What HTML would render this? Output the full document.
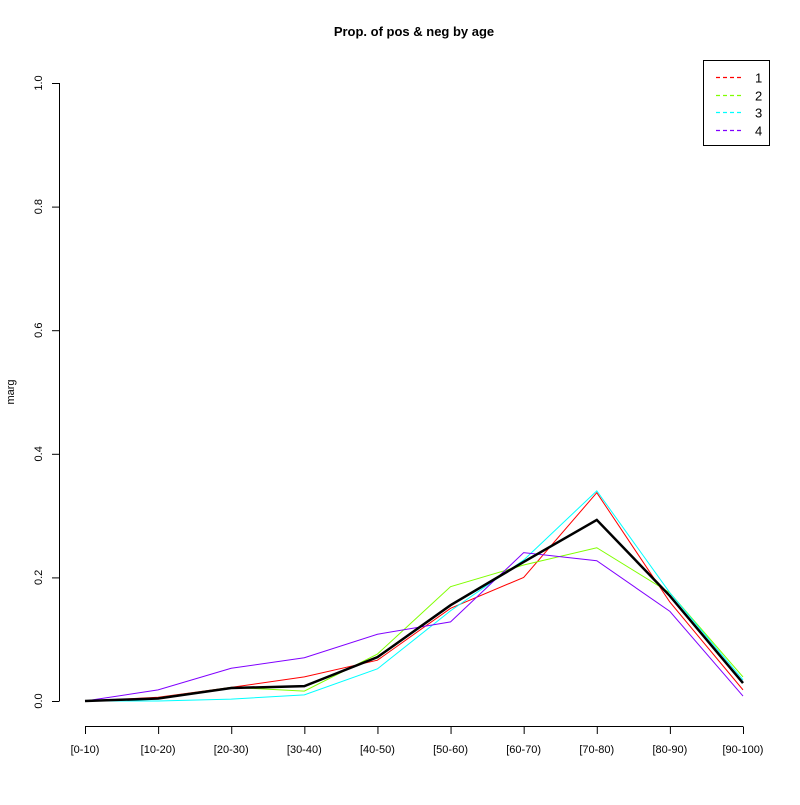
<!DOCTYPE html>
<html><head><meta charset="utf-8"><style>
body{margin:0;background:#fff}
svg{font-family:"Liberation Sans",Arial,sans-serif}
</style></head><body>
<svg id="chart" width="800" height="800" viewBox="0 0 800 800" xmlns="http://www.w3.org/2000/svg">
<rect width="800" height="800" fill="#fff"/>
<text x="414" y="36" text-anchor="middle" font-size="13" font-weight="bold">Prop. of pos &amp; neg by age</text>
<text transform="translate(14,392) rotate(-90)" text-anchor="middle" font-size="11">marg</text>
<g id="axes"></g>
<g id="series"></g>
<g>
<rect x="703.5" y="60.5" width="66" height="85" fill="#fff" stroke="#000"/>
<g id="legend"></g>
</g>
</svg>
<script>
const categories=["[0-10)","[10-20)","[20-30)","[30-40)","[40-50)","[50-60)","[60-70)","[70-80)","[80-90)","[90-100)"];
const s1=[0,0.006,0.022,0.039,0.066,0.15,0.2,0.337,0.16,0.018];
const s2=[0,0.005,0.022,0.016,0.076,0.185,0.22,0.248,0.175,0.039];
const s3=[0,0,0.003,0.01,0.052,0.146,0.228,0.34,0.175,0.034];
const s4=[0,0.018,0.053,0.07,0.108,0.128,0.24,0.227,0.145,0.008];
const overall=[0,0.004,0.021,0.024,0.071,0.155,0.225,0.293,0.17,0.029];
const yTicks=[0,0.2,0.4,0.6,0.8,1.0];
const yTickLabels=["0.0","0.2","0.4","0.6","0.8","1.0"];
const legendLabels=["1","2","3","4"];
const colors=["#ff0000","#80ff00","#00ffff","#8000ff"];
const NS="http://www.w3.org/2000/svg";
const x=i=>85+i*(743-85)/(categories.length-1);
const y=v=>701-v*618;
function mk(t,a,p){const e=document.createElementNS(NS,t);for(const k in a)e.setAttribute(k,a[k]);p.appendChild(e);return e;}
const ax=document.getElementById('axes');
const yl=mk('line',{x1:59.5,x2:59.5,y1:y(0),y2:y(1),stroke:'#000'},ax);


yTicks.forEach((v,i)=>{
 mk('line',{x1:52,x2:59.5,y1:y(v)+0.5,y2:y(v)+0.5,stroke:'#000'},ax);
 const t=mk('text',{transform:`translate(42,${y(v)}) rotate(-90)`,'text-anchor':'middle','font-size':11},ax);
 t.textContent=yTickLabels[i];
 
 
});
const xl=mk('line',{x1:x(0),x2:x(9),y1:726.5,y2:726.5,stroke:'#000'},ax);


categories.forEach((c,i)=>{
 mk('line',{x1:x(i)+0.5,x2:x(i)+0.5,y1:726.5,y2:734,stroke:'#000'},ax);
 const t=mk('text',{x:x(i),y:753,'text-anchor':'middle','font-size':11},ax);
 t.textContent=c;
 
 
});
const sg=document.getElementById('series');
const pts=a=>a.map((v,i)=>x(i)+','+y(v)).join(' ');
[s1,s2,s3,s4].forEach((s,k)=>{
 const p=mk('polyline',{points:pts(s),fill:'none',stroke:colors[k],'stroke-width':1},sg);
 
 
});
const ov=mk('polyline',{points:pts(overall),fill:'none',stroke:'#000','stroke-width':2.5},sg);


const lg=document.getElementById('legend');
legendLabels.forEach((l,k)=>{
 const yy=Math.round(77+k*17.5)+0.5;
 const ln=mk('line',{x1:716,x2:743,y1:yy,y2:yy,stroke:colors[k],'stroke-width':1.2,'stroke-dasharray':'4,3'},lg);
 
 
 const t=mk('text',{x:755,y:yy+5,'font-size':13},lg);
 t.textContent=l;
 
 
});
</script>
</body></html>
